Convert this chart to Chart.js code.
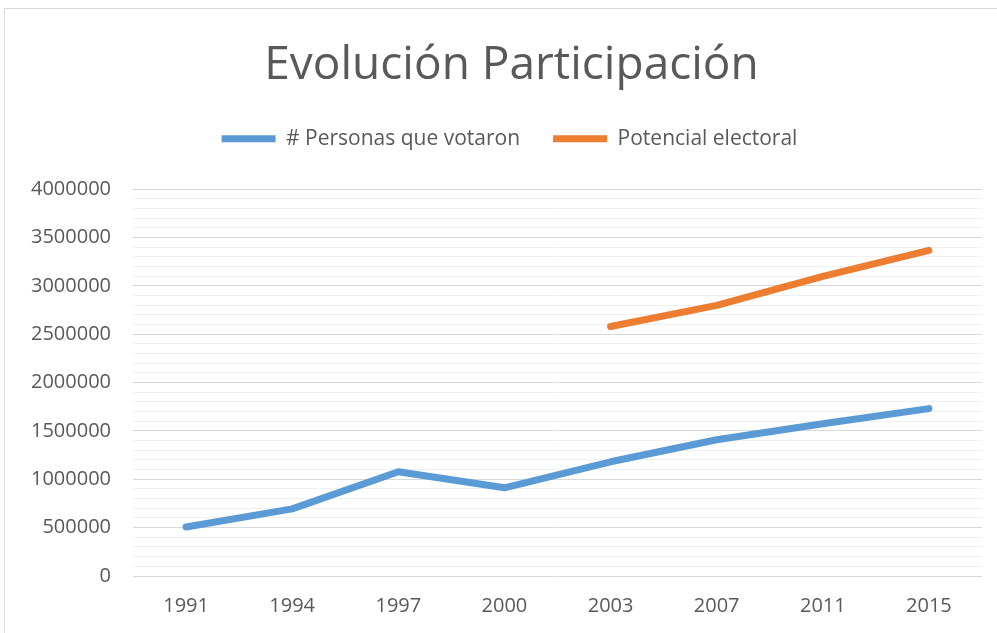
<!DOCTYPE html>
<html>
<head>
    <meta charset="utf-8">
    <title>Evolución Participación</title>
    <script src="https://cdn.jsdelivr.net/npm/chart.js"></script>
    <style>
        html, body { margin: 0; padding: 0; background: #fff; overflow: hidden; }
        .chart-box {
            position: absolute; left: 4px; top: 8px;
            width: 1013px; height: 640px;
            border: 1px solid #d9d9d9;
        }
        canvas { display: block; }
    </style>
</head>
<body>
    <div class="chart-box">
        <canvas id="participacion-chart" width="1013" height="640"></canvas>
    </div>

    <script>
        // datos
        const anios = ['1991', '1994', '1997', '2000', '2003', '2007', '2011', '2015'];
        const personasVotaron = [507000, 694000, 1078000, 912000, 1181000, 1409000, 1575000, 1731000];
        const potencialElectoral = [null, null, null, null, 2580000, 2798000, 3098000, 3368000];

        const textColor = '#595959';
        const fontFamily = '"Open Sans", "Noto Sans", sans-serif';

        // alto fijo de la leyenda y pequeño ajuste horizontal
        const legendHeight = {
            id: 'legendHeight',
            beforeInit(chart) {
                const fit = chart.legend.fit;
                chart.legend.fit = function () {
                    fit.bind(chart.legend)();
                    this.height = 94;
                    if (this.lineWidths && this.lineWidths.length) {
                        this.lineWidths[0] += 4;
                    }
                };
            }
        };

        const ctx = document.getElementById('participacion-chart').getContext('2d');
        new Chart(ctx, {
            type: 'line',
            data: {
                labels: anios,
                datasets: [
                    {
                        label: '# Personas que votaron',
                        data: personasVotaron,
                        borderColor: '#5b9bd5',
                        backgroundColor: '#5b9bd5',
                        borderWidth: 7,
                        borderCapStyle: 'round',
                        borderJoinStyle: 'round',
                        pointRadius: 0,
                        tension: 0,
                        fill: false
                    },
                    {
                        label: 'Potencial electoral',
                        data: potencialElectoral,
                        borderColor: '#ed7d31',
                        backgroundColor: '#ed7d31',
                        borderWidth: 7,
                        borderCapStyle: 'round',
                        borderJoinStyle: 'round',
                        pointRadius: 0,
                        tension: 0,
                        fill: false
                    }
                ]
            },
            options: {
                responsive: false,
                animation: false,
                layout: { padding: { left: 0, right: 0, bottom: 21 } },
                plugins: {
                    title: {
                        display: true,
                        text: 'Evolución Participación',
                        color: textColor,
                        font: { family: fontFamily, size: 46, weight: 'normal' },
                        padding: { top: 29, bottom: 2 }
                    },
                    legend: {
                        display: true,
                        position: 'top',
                        labels: {
                            color: textColor,
                            font: { family: fontFamily, size: 21 },
                            boxWidth: 54,
                            boxHeight: 7,
                            padding: 33,
                            generateLabels(chart) {
                                return chart.data.datasets.map((ds, i) => ({
                                    text: ds.label,
                                    fillStyle: ds.borderColor,
                                    strokeStyle: ds.borderColor,
                                    lineWidth: 0,
                                    fontColor: textColor,
                                    datasetIndex: i,
                                    hidden: false
                                }));
                            }
                        }
                    },
                    tooltip: { enabled: false }
                },
                scales: {
                    x: {
                        offset: true,
                        grid: { display: false, offset: true },
                        border: { display: false },
                        ticks: {
                            color: textColor,
                            font: { family: fontFamily, size: 20 },
                            padding: 10,
                            maxRotation: 0
                        }
                    },
                    y: {
                        min: 0,
                        max: 4000000,
                        border: { display: false },
                        afterFit(scale) { scale.width = 128; },
                        grid: {
                            drawTicks: false,
                            lineWidth: 1,
                            color: c => (c.tick && c.tick.value % 500000 === 0) ? '#d9d9d9' : '#f0f0f0'
                        },
                        ticks: {
                            stepSize: 100000,
                            maxTicksLimit: 100,
                            autoSkip: false,
                            color: textColor,
                            font: { family: fontFamily, size: 20 },
                            padding: 22,
                            callback: v => (v % 500000 === 0) ? String(v) : ''
                        }
                    },
                    // eje vacío a la derecha, solo deja margen
                    margenDerecho: {
                        type: 'linear',
                        position: 'right',
                        display: true,
                        border: { display: false },
                        grid: { display: false },
                        ticks: { display: false },
                        afterFit(scale) { scale.width = 36; }
                    }
                }
            },
            plugins: [legendHeight]
        });
    </script>
</body>
</html>
